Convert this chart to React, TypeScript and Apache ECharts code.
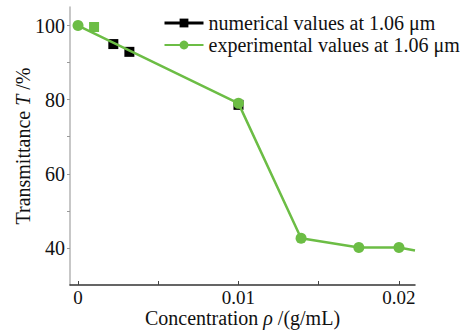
import React, { useEffect, useRef } from "react";
import * as echarts from "echarts";

const GREEN = "#6cbd45";
const FONT = "'Liberation Serif', 'Times New Roman', serif";

// experimental values (concentration g/mL, transmittance %)
const expX = [0, 0.01, 0.0139, 0.0175, 0.02, 0.021];
const expY = [100, 79, 42.6, 40.1, 40.1, 39.3];
// numerical values
const numX = [0.001, 0.0022, 0.0032, 0.01];
const numY = [99.6, 95, 92.9, 78.6];
const yTicks = [40, 60, 80, 100];
const xTicks = [0, 0.01, 0.02];

export default function App() {
  const ref = useRef<HTMLDivElement>(null);
  useEffect(() => {
    document.body.style.margin = "0";
    if (!ref.current) return;
    const chart = echarts.init(ref.current, null, { renderer: "svg" });
    const expData = expX.map((x, i) =>
      i === expX.length - 1 ? { value: [x, expY[i]], symbol: "none" } : [x, expY[i]]
    );
    const numData = numX.map((x, i) =>
      i === 0
        ? { value: [x, numY[i]], itemStyle: { color: GREEN } }
        : [x, numY[i]]
    );
    chart.setOption({
      animation: false,
      grid: { left: 70, right: 58, top: 7, bottom: 46, containLabel: false, outerBoundsMode: "none" },
      legend: {
        left: 163,
        top: 13,
        padding: 0,
        orient: "vertical",
        itemWidth: 39,
        itemHeight: 11,
        itemGap: 2,
        textStyle: { fontFamily: FONT, fontSize: 20, color: "#111", padding: [0, 0, 0, 0] },
        data: [
          {
            name: "numerical values at 1.06 μm",
            lineStyle: { opacity: 1, width: 3, color: "#000" },
          },
          { name: "experimental values at 1.06 μm" },
        ],
      },
      xAxis: {
        type: "value",
        min: -0.0005,
        max: 0.021,
        interval: 0.005,
        name: "{n|Concentration }{i|ρ}{n| /(g/mL)}",
        nameLocation: "middle",
        nameGap: 23,
        nameMoveOverlap: false,
        nameTextStyle: {
          rich: {
            n: { fontFamily: FONT, fontSize: 20, color: "#111" },
            i: { fontFamily: FONT, fontSize: 20, color: "#111", fontStyle: "italic" },
          },
        },
        axisLine: { show: true, onZero: false, lineStyle: { color: "#333", width: 1.5 } },
        axisTick: {
          show: true,
          inside: true,
          length: 4,
          lineStyle: { color: "#444" },
          customValues: [0, 0.005, 0.01, 0.015, 0.02],
        },
        axisLabel: {
          fontFamily: FONT,
          fontSize: 19,
          color: "#111",
          margin: 3,
          customValues: xTicks,
          formatter: (v: number) => (v === 0 ? "0" : String(Number(v.toFixed(3)))),
        },
        splitLine: { show: false },
      },
      yAxis: {
        type: "value",
        min: 30,
        max: 105,
        name: "{n|Transmittance }{i|T}{n| /%}",
        nameLocation: "middle",
        nameGap: 37,
        nameMoveOverlap: false,
        nameRotate: 90,
        nameTextStyle: {
          rich: {
            n: { fontFamily: FONT, fontSize: 20, color: "#111" },
            i: { fontFamily: FONT, fontSize: 20, color: "#111", fontStyle: "italic" },
          },
        },
        axisLine: { show: true, onZero: false, lineStyle: { color: "#b5b5b5", width: 1.5 } },
        axisTick: {
          show: true,
          inside: false,
          length: 3,
          lineStyle: { color: "#999" },
          customValues: [40, 50, 60, 70, 80, 90, 100],
        },
        axisLabel: {
          fontFamily: FONT,
          fontSize: 20,
          color: "#111",
          margin: 5,
          customValues: yTicks,
        },
        splitLine: { show: false },
      },
      series: [
        {
          name: "numerical values at 1.06 μm",
          type: "line",
          data: numData,
          symbol: "rect",
          symbolSize: 10,
          itemStyle: { color: "#000" },
          lineStyle: { opacity: 0, width: 3, color: "#000" },
          z: 2,
        },
        {
          name: "experimental values at 1.06 μm",
          type: "line",
          data: expData,
          symbol: "circle",
          symbolSize: 11,
          itemStyle: { color: GREEN },
          lineStyle: { color: GREEN, width: 2.5 },
          clip: true,
          z: 3,
        },
      ],
    });
    return () => chart.dispose();
  }, []);
  return <div ref={ref} style={{ width: 473, height: 331 }} />;
}
